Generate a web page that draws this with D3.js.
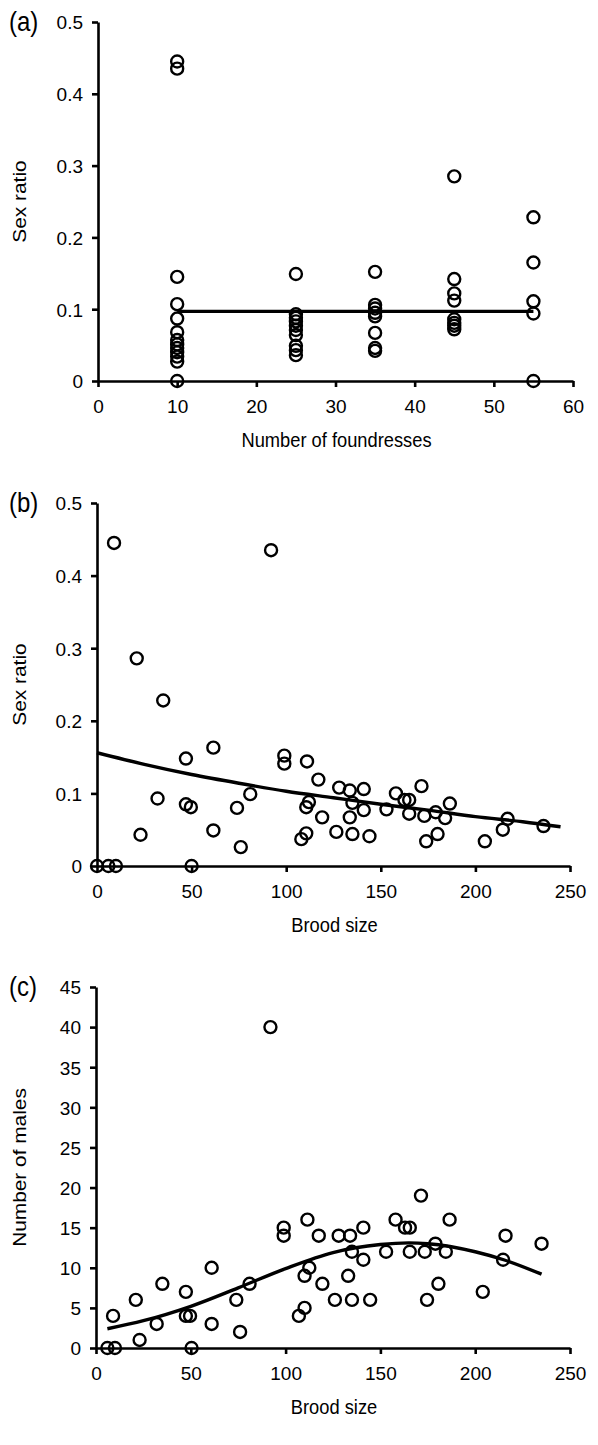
<!DOCTYPE html>
<html><head><meta charset="utf-8">
<script src="https://cdn.jsdelivr.net/npm/d3@7"></script>
<style>body{margin:0;background:#fff}svg{display:block}text{font-family:"Liberation Sans",Arial,sans-serif;fill:#000}</style>
</head><body><svg id="c" width="598" height="1445"></svg>
<script>
// Panel (a): sex ratio vs number of foundresses
const aX = [10,10,10,10,10,10,10,10,10,10,10,10,10,
            25,25,25,25,25,25,25,25,25,25,
            35,35,35,35,35,35,35,35,
            45,45,45,45,45,45,45,45,
            55,55,55,55,55];
const aY = [0.445,0.435,0.145,0.107,0.087,0.068,0.057,0.051,0.046,0.040,0.034,0.027,0,
            0.149,0.093,0.088,0.083,0.077,0.071,0.064,0.049,0.043,0.036,
            0.152,0.106,0.101,0.095,0.090,0.067,0.046,0.042,
            0.285,0.142,0.122,0.112,0.086,0.081,0.077,0.072,
            0.228,0.165,0.111,0.094,0];
const aFitX = [10,55];
const aFitY = [0.097,0.097];
const aXTicks = [0,10,20,30,40,50,60];
const aYTicks = [0,0.1,0.2,0.3,0.4,0.5];

// Panel (b): sex ratio vs brood size
const bX = [0,6,10,50,9,21,23,32,35,47,47,49.6,61.5,61.5,74,76,81,92,
            99,99,108,110.6,111,110.6,112,117,119,126.5,128,133.6,133.6,135,135,141,141,144,
            153,158,162.5,165,165,171.5,173,174,179,180,184,186.5,205,214.5,217,236];
const bY = [0,0,0,0,0.445,0.286,0.043,0.093,0.228,0.148,0.085,0.081,0.163,0.049,0.080,0.026,0.099,0.435,
            0.152,0.141,0.037,0.045,0.144,0.081,0.088,0.119,0.067,0.047,0.108,0.104,0.067,0.044,0.087,0.106,0.077,0.041,
            0.078,0.100,0.091,0.091,0.072,0.110,0.069,0.034,0.074,0.044,0.066,0.086,0.034,0.050,0.065,0.055];
const bFitX = [0,25,50,75,100,125,150,175,200,225,245];
const bFitY = [0.156,0.140,0.126,0.114,0.103,0.094,0.085,0.077,0.068,0.061,0.054];
const bXTicks = [0,50,100,150,200,250];
const bYTicks = [0,0.1,0.2,0.3,0.4,0.5];

// Panel (c): number of males vs brood size
const cX = [6,10,9,21,23,32,35,47.4,47.4,49.6,50.4,61,61,74,76,81,92,
            99,99,107,110,111.5,110,112.5,117.5,119.4,126,128,134,133,135,135,141,141,144.6,
            153,158,163,165.5,165.5,171.4,173.4,174.6,179,180.6,184.5,186.5,204,214.7,216,235];
const cY = [0,0,4,6,1,3,8,7,4,4,0,10,3,6,2,8,40,
            15,14,4,5,16,9,10,14,8,6,14,14,9,6,12,15,11,6,
            12,16,15,15,12,19,12,6,13,8,12,16,7,11,14,13];
const cFitX = [6,25,50,75,100,125,150,165,175,200,215,235];
const cFitY = [2.4,3.4,5.2,7.5,9.9,11.9,12.9,13.1,13.0,12.0,11.0,9.2];
const cXTicks = [0,50,100,150,200,250];
const cYTicks = [0,5,10,15,20,25,30,35,40,45];

const svg = d3.select("#c");
const SY = 1.14; // vertical stretch of the lettering

function stretchedText(g, x, y, str, size, anchor, rot){
  const t = g.append("g").attr("transform",`translate(${x},${y})${rot?" rotate(-90)":""} scale(${rot?SY:1},${rot?1:SY})`);
  t.append("text").attr("text-anchor",anchor).attr("font-size",size).text(str);
}

function panel(o){
  const x = d3.scaleLinear().domain(o.xd).range([o.left,o.right]);
  const y = d3.scaleLinear().domain(o.yd).range([o.bottom,o.top]);
  const g = svg.append("g");
  const xa = g.append("g").attr("transform",`translate(0,${o.bottom})`)
    .call(d3.axisBottom(x).tickValues(o.xt).tickSize(6).tickSizeOuter(0).tickFormat(d=>d));
  const ya = g.append("g").attr("transform",`translate(${o.left},0)`)
    .call(d3.axisLeft(y).tickValues(o.yt).tickSize(6).tickSizeOuter(0).tickFormat(d=>d));
  [xa,ya].forEach(a=>{
    a.selectAll("path,line").attr("stroke","#000").attr("stroke-width",2.6);
    a.selectAll("text").attr("font-size",19).style("font-family",'"Liberation Sans",Arial,sans-serif');
  });
  xa.selectAll("text").attr("y",14).attr("dy","0.95em");
  ya.selectAll("text").attr("x",-15).attr("dy","0.36em");
  g.append("path").datum(o.fx.map((v,i)=>[v,o.fy[i]]))
    .attr("d",d3.line().x(d=>x(d[0])).y(d=>y(d[1])).curve(d3.curveMonotoneX))
    .attr("fill","none").attr("stroke","#000").attr("stroke-width",3.4);
  g.selectAll("circle").data(o.px.map((v,i)=>[v,o.py[i]])).join("circle")
    .attr("cx",d=>x(d[0])).attr("cy",d=>y(d[1])).attr("r",6)
    .attr("fill","none").attr("stroke","#000").attr("stroke-width",2.4);
  stretchedText(g, 9, o.top+9, o.tag, 24, "start", false);
  stretchedText(g, (o.left+o.right)/2+1, o.bottom+66, o.xl, 18.3, "middle", false);
  stretchedText(g, o.ylx, (o.top+o.bottom)/2, o.yl, 18.3, "middle", true);
}

panel({xd:[0,60],yd:[0,0.5],left:98,right:573,top:22,bottom:381,xt:aXTicks,yt:aYTicks,
  px:aX,py:aY,fx:aFitX,fy:aFitY,tag:"(a)",xl:"Number of foundresses",yl:"Sex ratio",ylx:26});
panel({xd:[0,250],yd:[0,0.5],left:97,right:570,top:503,bottom:866,xt:bXTicks,yt:bYTicks,
  px:bX,py:bY,fx:bFitX,fy:bFitY,tag:"(b)",xl:"Brood size",yl:"Sex ratio",ylx:26});
panel({xd:[0,250],yd:[0,45],left:96,right:570,top:987,bottom:1348,xt:cXTicks,yt:cYTicks,
  px:cX,py:cY,fx:cFitX,fy:cFitY,tag:"(c)",xl:"Brood size",yl:"Number of males",ylx:26});
</script></body></html>
